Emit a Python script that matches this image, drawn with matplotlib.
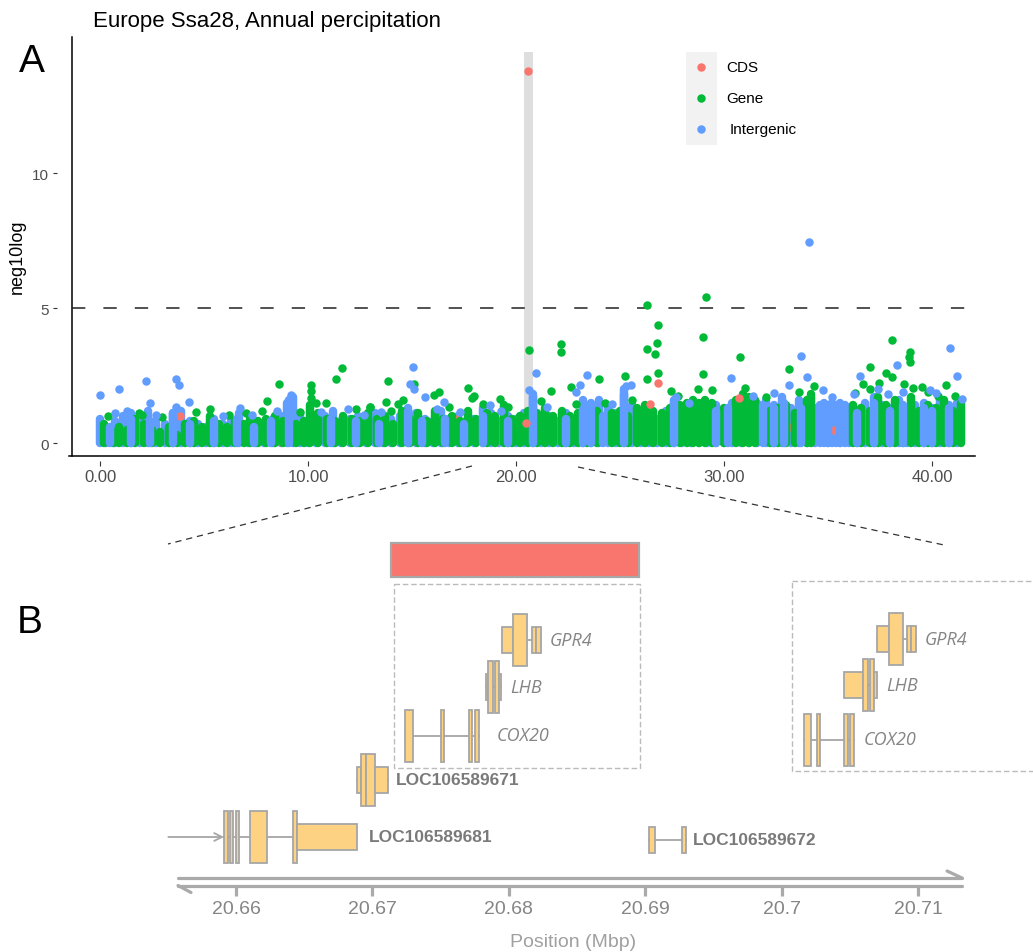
import numpy as np
import matplotlib.pyplot as plt
from matplotlib.patches import Rectangle

plt.rcParams['font.family'] = ['Liberation Sans', 'DejaVu Sans']
plt.rcParams['lines.scale_dashes'] = False

W, H = 1033, 953
CDS_COL, GENE_COL, INTER_COL = '#F8766D', '#00BA38', '#619CFF'
EXON_FILL, EXON_EDGE = '#FDD383', '#A6A6A6'
GREY_TXT = '#858585'

# ---------------- panel A: Manhattan plot, Ssa28 ----------------
# dense SNP stacks near the baseline: position (Mbp) and top of each stack
inter_stack_pos = [0.0, 0.3, 0.7, 1.1, 1.5, 1.9, 2.3, 2.7, 3.1, 3.5, 3.9, 4.3, 4.7, 5.1, 5.5,
                   5.9, 6.3, 6.7, 7.1, 7.5, 7.9, 8.3, 8.7, 9.0, 9.3, 9.6, 10.0, 10.4, 10.8,
                   11.2, 11.6, 12.0, 12.4, 12.8, 13.2, 13.6, 14.0, 14.4, 14.8, 15.2, 15.6,
                   16.0, 16.4, 16.8, 17.2, 17.6, 18.0, 18.4, 18.8, 19.2, 19.6, 20.0, 20.4,
                   20.8, 21.2, 21.6, 22.0, 22.4, 22.8, 23.2, 23.6, 24.0, 24.4, 24.8, 25.2,
                   25.6, 26.0, 26.4, 26.8, 27.2, 27.6, 28.0, 28.4, 28.8, 29.2, 29.6, 30.0,
                   30.4, 30.8, 31.2, 31.6, 32.0, 32.4, 32.8, 33.2, 33.6, 34.0, 34.4, 34.6,
                   34.8, 35.0, 35.2, 35.4, 35.6, 35.8, 36.0, 36.4, 36.8, 37.2, 37.6, 38.0,
                   38.4, 38.8, 39.2, 39.6, 40.0, 40.4, 40.8, 41.2]
inter_stack_top = [0.9, 0.6, 0.8, 1.0, 1.1, 0.9, 1.2, 0.8, 0.7, 1.1, 1.2, 0.8, 0.7, 0.6, 0.9,
                   0.7, 0.8, 1.1, 0.7, 0.8, 0.6, 0.9, 1.0, 1.5, 1.7, 1.1, 0.8, 0.9, 1.0,
                   1.2, 0.8, 0.9, 1.0, 0.7, 1.1, 0.8, 0.9, 1.0, 1.3, 1.1, 0.9,
                   0.8, 1.2, 0.9, 1.0, 0.8, 0.9, 1.3, 1.1, 0.8, 1.0, 0.9, 1.1,
                   1.8, 0.9, 1.0, 0.8, 1.1, 0.9, 1.6, 1.5, 1.6, 1.3, 1.1, 2.0,
                   1.4, 1.0, 1.1, 0.9, 1.2, 1.6, 1.1, 0.9, 1.0, 1.3, 1.4, 1.2,
                   1.5, 1.1, 1.0, 1.5, 1.6, 1.4, 1.7, 1.3, 1.6, 1.4, 1.3, 1.4,
                   1.5, 1.4, 1.5, 1.4, 1.5, 1.4, 1.3, 1.2, 1.5, 1.7, 1.4, 1.3,
                   1.6, 1.2, 1.4, 1.5, 1.3, 1.6, 1.4, 1.5]
gene_stack_pos = [0.2, 0.6, 0.9, 1.3, 1.7, 2.1, 2.5, 2.9, 3.3, 3.7, 4.1, 4.5, 4.9, 5.3, 5.7,
                  6.1, 6.5, 6.9, 7.2, 7.6, 8.0, 8.4, 8.8, 9.4, 9.8, 10.1, 10.5, 10.9, 11.3,
                  11.7, 12.1, 12.5, 12.9, 13.3, 13.7, 14.1, 14.5, 14.9, 15.3, 15.7, 16.1,
                  16.5, 16.9, 17.3, 17.7, 18.1, 18.6, 19.0, 19.4, 19.8, 20.2, 20.6, 21.0,
                  21.4, 21.8, 22.2, 22.6, 23.0, 23.4, 23.9, 24.6, 25.0, 25.4, 25.8, 26.2,
                  26.6, 27.0, 27.4, 27.9, 28.2, 28.5, 28.8, 29.1, 29.4, 30.0, 30.6, 30.9,
                  31.2, 31.5, 32.2, 32.6, 33.0, 33.4, 34.0, 34.2, 36.2, 36.6, 37.0, 37.4,
                  37.8, 38.2, 38.6, 39.0, 39.4, 39.8, 40.2, 40.6, 41.0, 41.4]
gene_stack_top = [0.7, 0.4, 0.6, 0.5, 0.9, 0.7, 0.5, 0.4, 0.6, 0.3, 0.7, 0.8, 0.6, 1.0, 0.7,
                  0.6, 0.8, 0.7, 0.9, 0.8, 0.9, 1.0, 0.8, 0.7, 0.8, 1.4, 1.1, 0.9, 0.8,
                  1.0, 0.9, 0.8, 1.1, 0.9, 1.0, 0.7, 1.2, 0.9, 1.1, 0.8, 1.2,
                  0.9, 1.0, 0.8, 1.2, 0.9, 1.1, 1.0, 1.4, 0.9, 1.0, 1.2, 1.1,
                  1.3, 1.0, 1.2, 1.0, 1.1, 0.9, 1.2, 1.1, 1.2, 1.0, 1.3, 1.4,
                  1.2, 1.1, 1.3, 1.4, 1.5, 1.6, 1.5, 1.6, 1.5, 1.3, 1.6, 1.8,
                  1.7, 1.6, 1.2, 1.3, 1.4, 1.1, 1.6, 1.8, 1.4, 1.3, 1.2, 1.7,
                  1.4, 1.6, 1.3, 1.7, 1.2, 1.4, 1.3, 1.6, 1.2, 1.5]
# intergenic stacks that sit in front of the gene stacks
inter_over_pos = [0.5, 1.5, 2.4, 3.5, 4.3, 5.5, 6.6, 7.4, 8.2, 9.1, 11.1, 12.3, 13.4, 14.8,
                  15.5, 16.6, 17.5, 18.4, 19.6, 20.8, 22.4, 23.2, 23.6, 24.2, 25.2, 27.6,
                  29.6, 30.2, 31.9, 32.4, 32.9, 33.7, 35.0, 35.6, 36.4, 37.2, 38.0, 38.6,
                  39.6, 40.0, 40.8]
inter_over_top = [0.6, 0.9, 0.8, 1.1, 0.7, 0.8, 0.9, 0.6, 0.8, 1.6, 0.9, 0.8, 0.7, 1.2,
                  0.8, 0.9, 0.7, 1.0, 0.8, 1.7, 0.9, 1.5, 1.4, 1.0, 1.8, 1.5,
                  1.2, 1.3, 1.4, 1.3, 1.5, 1.3, 1.4, 1.4, 1.1, 1.5, 1.2, 1.4,
                  1.3, 1.2, 1.3]
cds_band_pos = [1.2, 3.86, 5.0, 8.7, 9.3, 11.9, 13.8, 15.7, 17.1, 19.0, 20.3,
                23.5, 28.2, 33.2, 35.3, 36.8, 38.1]
cds_band_val = [0.3, 1.02, 0.5, 0.05, 0.3, 0.3, 0.4, 0.6, 0.9, 0.05, 0.45,
                0.5, 0.9, 0.6, 0.5, 1.0, 0.7]

# SNPs standing clear of the stacks
gene_pos = [26.31, 29.13, 26.82, 26.77, 26.30, 26.67, 20.62, 22.16, 22.16, 28.98, 30.75,
            38.10, 38.95, 38.92, 38.95, 37.02, 33.11, 26.82, 26.30, 23.97, 25.25, 22.66,
            28.98, 28.77, 29.41, 21.70, 27.44, 38.10, 37.80, 37.43, 34.31, 39.07, 39.54,
            40.66, 41.10, 38.64, 37.00, 36.67, 5.27, 1.85, 8.59, 8.04, 10.16, 10.16,
            10.13, 10.39, 11.35, 11.61, 13.83, 13.76, 12.96, 14.31, 14.55, 15.08, 16.08,
            16.29, 17.68, 18.00, 19.24, 10.88, 17.90,
            0.4, 2.0, 3.0, 4.6, 6.2, 7.0, 7.8, 9.6, 12.3, 13.0, 14.0, 16.8, 18.4, 19.6,
            21.2, 22.9, 24.3, 25.6, 27.8, 31.0, 32.0, 33.6, 36.3, 39.8, 40.3]
gene_val = [5.13, 5.40, 4.36, 3.70, 3.49, 3.29, 3.46, 3.67, 3.39, 3.91, 3.19,
            3.80, 3.37, 3.18, 3.01, 2.82, 2.76, 2.58, 2.39, 2.37, 2.49, 2.06,
            2.55, 2.02, 1.97, 1.93, 1.93, 2.45, 2.60, 2.22, 2.12, 2.04, 2.09,
            2.15, 1.75, 2.18, 1.99, 2.18, 1.27, 1.11, 2.19, 1.57, 2.14, 1.91,
            1.67, 1.48, 2.38, 2.79, 2.28, 1.52, 1.32, 1.46, 1.58, 2.17, 1.77,
            1.89, 2.04, 1.74, 1.64, 1.48, 1.65,
            1.00, 1.05, 0.95, 1.15, 1.05, 1.10, 1.20, 1.15, 1.25, 1.35, 1.20, 1.35, 1.45, 1.35,
            1.55, 1.45, 1.50, 1.60, 1.75, 2.05, 1.70, 1.90, 1.85, 1.90, 1.75]
inter_pos = [34.11, 0.00, 0.93, 2.22, 3.65, 3.81, 2.40, 4.28, 3.63, 6.75, 9.16, 15.05,
             14.92, 15.11, 15.64, 16.56, 18.73, 11.90, 20.98, 20.62, 23.43, 25.28, 25.54,
             30.33, 27.70, 33.69, 38.31, 40.89, 41.21, 36.54, 33.97, 33.15, 34.75, 39.92,
             41.46, 36.23, 37.40, 38.60, 22.90, 23.10,
             0.7, 1.3, 2.7, 5.9, 7.3, 8.5, 10.6, 12.7, 13.5, 16.2, 17.3, 19.3, 21.5, 24.6,
             28.3, 31.4, 32.4, 35.2, 37.9, 40.2]
inter_val = [7.43, 1.77, 2.01, 2.28, 2.38, 2.14, 1.47, 1.52, 1.33, 1.30, 1.77, 2.83,
             2.20, 2.01, 1.70, 1.52, 1.40, 1.27, 2.58, 1.95, 2.53, 2.12, 2.15,
             2.41, 1.70, 3.22, 2.89, 3.53, 2.48, 2.50, 2.46, 2.14, 1.97, 1.97,
             1.62, 1.83, 2.00, 1.90, 1.90, 2.15,
             1.10, 1.20, 1.05, 1.00, 1.05, 1.20, 1.15, 1.05, 1.15, 1.25, 1.15, 1.20, 1.35, 1.45,
             1.50, 1.75, 1.85, 1.70, 1.80, 1.85]
cds_pos = [20.58, 26.82, 26.44, 30.74, 20.49]
cds_val = [13.78, 2.22, 1.44, 1.66, 0.73]

threshold = 5
peak_window = (20.40, 20.83)
x_ticks = [0, 10, 20, 30, 40]
y_ticks = [0, 5, 10]

legend_labels = ['CDS', 'Gene', 'Intergenic']
legend_colors = [CDS_COL, GENE_COL, INTER_COL]

# ---------------- panel B: gene models around the peak ----------------
axis_ticks = [20.66, 20.67, 20.68, 20.69, 20.70, 20.71]
axis_tick_labels = ['20.66', '20.67', '20.68', '20.69', '20.7', '20.71']

track_genes = ['LOC106589681', 'LOC106589671', 'COX20', 'LHB', 'GPR4', 'LOC106589672']
track_label_x = [20.66975, 20.67171, 20.67911, 20.68009, 20.68297, 20.69353]
track_bold = [True, True, False, False, False, True]
exon_gene = ['LOC106589681'] * 6 + ['LOC106589671'] * 4 + ['COX20'] * 4 + ['LHB'] * 4 \
            + ['GPR4'] * 4 + ['LOC106589672'] * 2
exon_start = [20.65912, 20.65956, 20.65998, 20.66100, 20.66420, 20.66447,
              20.66889, 20.66919, 20.66953, 20.67021,
              20.67237, 20.67503, 20.67706, 20.67752,
              20.67831, 20.67850, 20.67899, 20.67928,
              20.67950, 20.68033, 20.68168, 20.68199,
              20.69028, 20.69272]
exon_end = [20.65939, 20.65980, 20.66024, 20.66229, 20.66447, 20.66885,
            20.66919, 20.66953, 20.67021, 20.67114,
            20.67298, 20.67527, 20.67730, 20.67782,
            20.67850, 20.67882, 20.67928, 20.67941,
            20.68033, 20.68136, 20.68199, 20.68234,
            20.69074, 20.69299]
exon_coding = [1, 1, 1, 1, 1, 0,
               0, 1, 1, 0,
               1, 1, 1, 1,
               0, 1, 1, 0,
               0, 1, 0, 0,
               0, 0]
tss_681 = 20.65504

# alternative models of the three candidate genes (inset)
alt_genes = ['COX20', 'LHB', 'GPR4']
alt_label_x = [20.70599, 20.70770, 20.71051]
alt_exon_gene = ['COX20'] * 4 + ['LHB'] * 4 + ['GPR4'] * 4
alt_exon_start = [20.70164, 20.70257, 20.70460, 20.70501,
                  20.70457, 20.70599, 20.70648, 20.70677,
                  20.70702, 20.70785, 20.70917, 20.70951]
alt_exon_end = [20.70213, 20.70282, 20.70485, 20.70533,
                20.70599, 20.70631, 20.70677, 20.70697,
                20.70785, 20.70888, 20.70951, 20.70985]
alt_exon_coding = [1, 1, 1, 1, 0, 1, 1, 0, 0, 1, 0, 0]

peak_region = (20.67139, 20.68955)

# ---------------- layout (pixel rows of the figure) ----------------
track_rows = {'LOC106589681': 838, 'LOC106589671': 780.5, 'COX20': 736.5,
              'LHB': 688, 'GPR4': 641, 'LOC106589672': 841}
alt_rows = {'COX20': 740.5, 'LHB': 686, 'GPR4': 640}
TALL, SHORT = 26, 13

fig = plt.figure(figsize=(W / 100, H / 100), dpi=100)

# panel B lives on a full-figure axes: x in Mbp, y in pixel rows
axB = fig.add_axes([0, 0, 1, 1])
axB.set_xlim(20.642698, 20.718431)
axB.set_ylim(H, 0)
axB.axis('off')


def draw_gene(ax, starts, ends, coding, row):
    ax.plot([min(starts), max(ends)], [row, row], color=EXON_EDGE, lw=1.3, zorder=2)
    for s, e, c in zip(starts, ends, coding):
        h = TALL if c else SHORT
        ax.add_patch(Rectangle((s, row - h), e - s, 2 * h, facecolor=EXON_FILL,
                               edgecolor=EXON_EDGE, lw=1.3, zorder=3))


for name, lx, bold in zip(track_genes, track_label_x, track_bold):
    idx = [i for i, g in enumerate(exon_gene) if g == name]
    row = track_rows[name]
    draw_gene(axB, [exon_start[i] for i in idx], [exon_end[i] for i in idx],
              [exon_coding[i] for i in idx], row)
    if bold:
        axB.text(lx, row, name, fontsize=12.5, fontweight='bold', color='#7A7A7A',
                 va='center', ha='left')
    else:
        axB.text(lx, row, name, fontsize=13, style='italic', color=GREY_TXT,
                 family=['Open Sans', 'DejaVu Sans'], va='center', ha='left')

# transcription start arrow of LOC106589681
row = track_rows['LOC106589681']
axB.annotate('', xy=(min(exon_start[:6]), row), xytext=(tss_681, row),
             arrowprops=dict(arrowstyle='->', color=EXON_EDGE, lw=1.3,
                             shrinkA=0, shrinkB=0, mutation_scale=14))

for name, lx in zip(alt_genes, alt_label_x):
    idx = [i for i, g in enumerate(alt_exon_gene) if g == name]
    row = alt_rows[name]
    draw_gene(axB, [alt_exon_start[i] for i in idx], [alt_exon_end[i] for i in idx],
              [alt_exon_coding[i] for i in idx], row)
    axB.text(lx, row, name, fontsize=13, style='italic', color=GREY_TXT,
             family=['Open Sans', 'DejaVu Sans'], va='center', ha='left')

# associated region bar and the two gene boxes
axB.add_patch(Rectangle((peak_region[0], 543.5), peak_region[1] - peak_region[0], 34,
                        facecolor=CDS_COL, edgecolor='#A8A8A8', lw=1.6, zorder=3))
axB.add_patch(Rectangle((20.67161, 585), 20.68960 - 20.67161, 184,
                        fill=False, edgecolor='#BBBBBB', lw=1.0, ls=(0, (4, 2))))
axB.add_patch(Rectangle((20.70076, 582), 0.0185, 190,
                        fill=False, edgecolor='#BBBBBB', lw=1.0, ls=(0, (4, 2))))

# genomic axis: two strand lines with half arrow heads
ax_lo, ax_hi = 20.65575, 20.71323
axis_kw = dict(color='#AAAAAA', lw=2.3, solid_capstyle='round')
axB.plot([ax_lo, ax_hi], [879, 879], **axis_kw)
axB.plot([ax_hi, ax_hi - 0.0011], [879, 872], **axis_kw)
axB.plot([ax_lo, ax_hi], [886.5, 886.5], **axis_kw)
axB.plot([ax_lo, ax_lo + 0.00095], [886.5, 893.5], **axis_kw)
for t, lab in zip(axis_ticks, axis_tick_labels):
    axB.plot([t, t], [888, 897], color='#AAAAAA', lw=2.3, solid_capstyle='butt')
    axB.text(t, 910, lab, fontsize=14, color=GREY_TXT, ha='center', va='center')
axB.text(np.mean(axis_ticks) - 0.0003, 943, 'Position (Mbp)', fontsize=14,
         color='#A0A0A0', ha='center', va='center')

# ---------------- panel A axes ----------------
axA = fig.add_axes([72 / W, 1 - 457 / H, (975 - 72) / W, (457 - 38) / H])
axA.set_facecolor('none')
axA.set_xlim(-1.35, 42.07)
axA.set_ylim(-0.48, 15.04)

dot_lw = 6.1
axA.axvspan(*peak_window, ymin=0.03, ymax=(14.47 + 0.48) / 15.52, color='#DEDEDE',
            lw=0, zorder=0)
axA.vlines(inter_stack_pos, 0, inter_stack_top, color=INTER_COL, lw=dot_lw,
           capstyle='round', zorder=1)
axA.scatter(cds_band_pos, cds_band_val, s=37, color=CDS_COL, lw=0, zorder=1.5)
axA.vlines(gene_stack_pos, 0, gene_stack_top, color=GENE_COL, lw=dot_lw,
           capstyle='round', zorder=2)
axA.vlines(inter_over_pos, 0, inter_over_top, color=INTER_COL, lw=dot_lw,
           capstyle='round', zorder=2.2)
axA.axhline(threshold, color='#222222', lw=1.1, dashes=(9.6, 13), zorder=2.5)
axA.scatter(gene_pos, gene_val, s=37, color=GENE_COL, lw=0, zorder=3)
axA.scatter(inter_pos, inter_val, s=37, color=INTER_COL, lw=0, zorder=3)
axA.scatter(cds_pos, cds_val, s=37, color=CDS_COL, lw=0, zorder=3)

for side in ['top', 'right']:
    axA.spines[side].set_visible(False)
axA.spines['left'].set_position(('outward', 11))
axA.spines['bottom'].set_position(('outward', 3.4))
axA.spines['left'].set_visible(False)
axA.spines['bottom'].set_visible(False)
axA.plot([0, 0], [0, 1], transform=axA.transAxes, color='black', lw=1.1, clip_on=False)
axA.plot([-0.003, 1], [0, 0], transform=axA.transAxes, color='black', lw=1.1,
         clip_on=False)

axA.set_xticks(x_ticks, [f'{v:.2f}' for v in x_ticks])
axA.set_yticks(y_ticks, [str(v) for v in y_ticks])
axA.tick_params(axis='x', direction='out', length=3.6, width=0.8, color='#333333',
                labelsize=12, labelcolor='#4D4D4D', pad=2.5)
axA.tick_params(axis='y', direction='out', length=2.9, width=0.8, color='#333333',
                labelsize=11, labelcolor='#4D4D4D', pad=3)

# ---------------- overlay in pixel coordinates ----------------
ov = fig.add_axes([0, 0, 1, 1], zorder=10)
ov.set_xlim(0, W)
ov.set_ylim(H, 0)
ov.axis('off')
ov.patch.set_alpha(0)

# zoom guides from panel A down to panel B
ov.plot([472, 168], [467, 545], color='#333333', lw=0.9, dashes=(4.5, 3.5))
ov.plot([578, 944], [468, 546], color='#333333', lw=0.9, dashes=(4.5, 3.5))

# legend
ov.add_patch(Rectangle((686, 53), 31, 93, facecolor='#F2F2F2', lw=0))
for i, (lab, col) in enumerate(zip(legend_labels, legend_colors)):
    y = 68.3 + 31 * i
    ov.scatter([701.3], [y], s=37, color=col, lw=0)
    ov.text(726.7 + (2.6 if lab == 'Intergenic' else 0), y, lab, fontsize=11,
            va='center', ha='left', color='black')

fig.text(93 / W, 1 - 22 / H, 'Europe Ssa28, Annual percipitation', fontsize=16,
         va='center', ha='left')
fig.text(17 / W, 1 - 257 / H, 'neg10log', fontsize=13, rotation=90,
         va='center', ha='center')
fig.text(19 / W, 1 - 62 / H, 'A', fontsize=28, va='center', ha='left')
fig.text(17 / W, 1 - 623 / H, 'B', fontsize=28, va='center', ha='left')

fig.savefig('out.png', dpi=100, facecolor='white')
